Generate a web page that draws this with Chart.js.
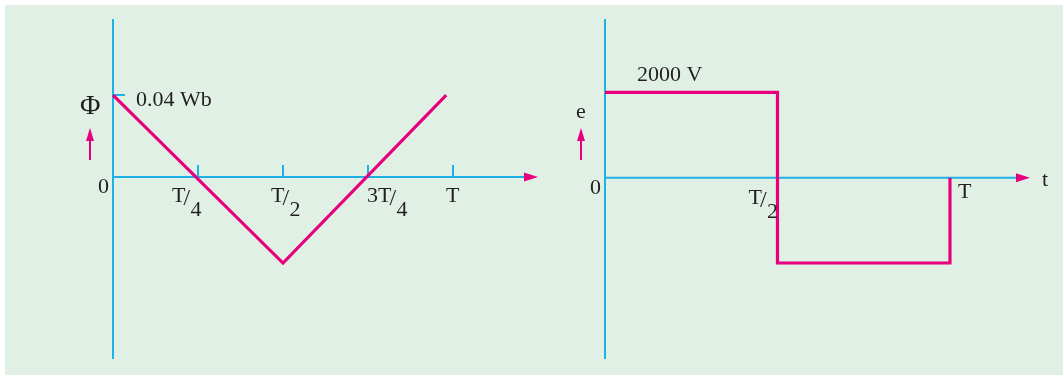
<!DOCTYPE html>
<html>
<head>
<meta charset="utf-8">
<script src="https://cdn.jsdelivr.net/npm/chart.js@4"></script>
<style>
  html, body { margin: 0; padding: 0; background: #ffffff; }
  #wrap { position: relative; width: 1063px; height: 375px; overflow: hidden; }
  #bg { position: absolute; left: 5px; top: 5px; right: 0; bottom: 0; background: #e1f0e5; }
  #fluxChart { position: absolute; left: 0; top: 0; }
  #emfChart { position: absolute; left: 545px; top: 0; }
</style>
</head>
<body>
<div id="wrap">
  <div id="bg"></div>
  <canvas id="fluxChart" width="545" height="375"></canvas>
  <canvas id="emfChart" width="518" height="375"></canvas>
</div>
<script>
// DATA (time in periods T)
const fluxTimes = [0, 0.5, 0.98];
const fluxValues = [0.04, -0.042, 0.04];
const emfTimes = [0, 0.5, 0.5, 1, 1];
const emfValues = [2000, 2000, -2000, -2000, 0];
const fluxTicks = [0.25, 0.5, 0.75, 1];
const fluxTickLabels = [["T", "4"], ["T", "2"], ["3T", "4"], ["T", ""]];
const emfTicks = [0.5, 1];
const emfTickLabels = [["T", "2"], ["T", ""]];

const BLUE = "#1eb1e6";
const PINK = "#e6007e";
const INK = "#231f20";
const FONT = "22px 'Liberation Serif', 'DejaVu Serif', serif";

// small helpers
function xAxisArrow(ctx, x, y) {
	ctx.fillStyle = PINK;
	ctx.beginPath();
	ctx.moveTo(x, y);
	ctx.lineTo(x - 14, y - 4.5);
	ctx.lineTo(x - 14, y + 4.5);
	ctx.closePath();
	ctx.fill();
}

function upArrow(ctx, x, top, bottom) {
	ctx.strokeStyle = PINK;
	ctx.lineWidth = 2;
	ctx.beginPath();
	ctx.moveTo(x, bottom);
	ctx.lineTo(x, top + 10);
	ctx.stroke();
	ctx.fillStyle = PINK;
	ctx.beginPath();
	ctx.moveTo(x, top);
	ctx.lineTo(x - 4, top + 13);
	ctx.lineTo(x + 4, top + 13);
	ctx.closePath();
	ctx.fill();
}

// "T/4" style label, left edge at x, numerator baseline at y
function fraction(ctx, parts, x, y) {
	ctx.fillStyle = INK;
	ctx.font = FONT;
	ctx.textAlign = "left";
	ctx.textBaseline = "alphabetic";
	ctx.fillText(parts[0], x, y);
	if (!parts[1]) return;
	const w = ctx.measureText(parts[0]).width;
	ctx.font = "24px 'Liberation Serif', serif";
	ctx.fillText("/", x + w - 2, y + 3);
	ctx.font = FONT;
	ctx.fillText(parts[1], x + w + 5, y + 14);
}

// axes drawn from the chart's own scales
const axesPlugin = {
	id: "axes",
	beforeDatasetsDraw(chart, args, opts) {
		const ctx = chart.ctx;
		const xs = chart.scales.x, ys = chart.scales.y;
		const area = chart.chartArea;
		const x0 = xs.getPixelForValue(0), y0 = ys.getPixelForValue(0);
		ctx.save();
		ctx.strokeStyle = BLUE;
		ctx.lineWidth = 2;
		ctx.beginPath();
		ctx.moveTo(x0, area.top);
		ctx.lineTo(x0, area.bottom);
		ctx.moveTo(x0, y0);
		ctx.lineTo(area.right - 12, y0);
		if (opts.tickMarks) {
			opts.ticks.forEach(t => {
				const px = xs.getPixelForValue(t);
				ctx.moveTo(px, y0);
				ctx.lineTo(px, y0 - 12);
			});
		}
		if (opts.yTick !== undefined) {
			const py = ys.getPixelForValue(opts.yTick);
			ctx.moveTo(x0, py);
			ctx.lineTo(x0 + 12, py);
		}
		ctx.stroke();
		xAxisArrow(ctx, area.right, y0);
		ctx.restore();
	},
	afterDraw(chart, args, opts) {
		const ctx = chart.ctx;
		const xs = chart.scales.x, ys = chart.scales.y;
		const area = chart.chartArea;
		const x0 = xs.getPixelForValue(0), y0 = ys.getPixelForValue(0);
		ctx.save();
		ctx.fillStyle = INK;
		ctx.font = FONT;
		ctx.textBaseline = "alphabetic";
		ctx.textAlign = "left";
		ctx.fillText("t", area.right + 12, y0 + 8);
		ctx.fillText("0", x0 - 15, y0 + 16);
		ctx.fillText(opts.valueText, x0 + opts.valueDx, ys.getPixelForValue(opts.valueAt) + opts.valueDy);
		ctx.font = opts.yNameFont;
		ctx.fillText(opts.yName, x0 - opts.yNameDx, opts.yNameY);
		upArrow(ctx, x0 - opts.arrowDx, 128, 160);
		opts.ticks.forEach((t, i) => {
			fraction(ctx, opts.labels[i], xs.getPixelForValue(t) + opts.labelDx[i], y0 + opts.labelDy[i]);
		});
		ctx.restore();
	}
};

function makeChart(id, times, values, xMax, yMin, yMax, pad, plug) {
	return new Chart(document.getElementById(id), {
		type: "line",
		data: {
			datasets: [{
				data: times.map((t, i) => ({ x: t, y: values[i] })),
				borderColor: PINK,
				borderWidth: 3.2,
				pointRadius: 0,
				tension: 0,
				fill: false,
				clip: false
			}]
		},
		options: {
			responsive: false,
			animation: false,
			events: [],
			layout: { padding: pad },
			plugins: { legend: { display: false }, tooltip: { enabled: false }, axes: plug },
			scales: {
				x: { type: "linear", min: 0, max: xMax, display: false },
				y: { type: "linear", min: yMin, max: yMax, display: false }
			}
		},
		plugins: [axesPlugin]
	});
}

makeChart("fluxChart", fluxTimes, fluxValues, 1.25, -0.0888, 0.0771,
	{ left: 113, right: 7, top: 19, bottom: 16 },
	{
		ticks: fluxTicks, labels: fluxTickLabels, yTick: 0.04, tickMarks: true,
		labelDx: [-26, -12, -1, -7], labelDy: [25, 25, 25, 25],
		yName: "\u03A6", yNameFont: "28px 'Liberation Serif', serif", yNameDx: 33, yNameY: 114, arrowDx: 23,
		valueText: "0.04 Wb", valueAt: 0.04, valueDx: 23, valueDy: 11
	});

makeChart("emfChart", emfTimes, emfValues, 1.232, -4250, 3720,
	{ left: 60, right: 33, top: 19, bottom: 16 },
	{
		ticks: emfTicks, labels: emfTickLabels, tickMarks: false,
		labelDx: [-29, 8], labelDy: [26, 20],
		yName: "e", yNameFont: FONT, yNameDx: 29, yNameY: 118, arrowDx: 24,
		valueText: "2000 V", valueAt: 2000, valueDx: 32, valueDy: -11
	});
</script>
</body>
</html>
